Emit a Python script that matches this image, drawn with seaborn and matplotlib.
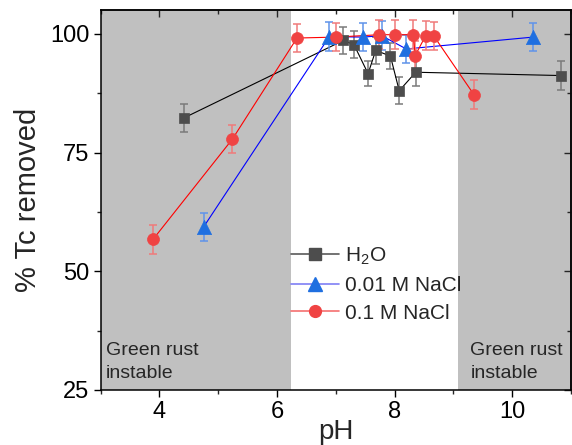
import matplotlib
matplotlib.use("Agg")
import matplotlib.pyplot as plt
from matplotlib.lines import Line2D
from matplotlib.ticker import FixedLocator
import seaborn as sns
import pandas as pd

# ---- data ----
h2o_ph = [4.42, 7.13, 7.31, 7.55, 7.68, 7.93, 8.08, 8.36, 10.84]
h2o_val = [82.3, 98.6, 97.7, 91.6, 96.5, 95.3, 88.0, 91.9, 91.2]
h2o_err = [3.0, 2.8, 2.8, 2.6, 2.8, 2.8, 2.8, 2.8, 3.0]

nacl001_ph = [4.75, 6.89, 7.47, 7.78, 8.20, 10.36]
nacl001_val = [59.3, 99.4, 99.3, 99.6, 96.8, 99.3]
nacl001_err = [3.0, 3.0, 3.0, 3.0, 3.0, 3.0]

nacl01_ph = [3.89, 5.24, 6.34, 7.01, 7.74, 8.00, 8.32, 8.35, 8.53, 8.67, 9.35]
nacl01_val = [56.7, 77.8, 99.1, 99.3, 99.8, 99.8, 99.8, 95.4, 99.6, 99.5, 87.2]
nacl01_err = [3.0, 3.0, 3.0, 3.0, 3.0, 3.0, 3.0, 3.0, 3.0, 3.0, 3.0]

labels = ["H$_{\\mathregular{2}}$O", "0.01 M NaCl", "0.1 M NaCl"]
region_text = "Green rust\ninstable"
x_label = "pH"
y_label = "% Tc removed"

sns.set_theme(style="ticks")
plt.rcParams["font.family"] = ["Liberation Sans", "DejaVu Sans"]
plt.rcParams["mathtext.fontset"] = "custom"
plt.rcParams["mathtext.rm"] = "Liberation Sans"

fig = plt.figure(figsize=(5.72, 4.45), dpi=100)
ax = fig.add_axes([0.176, 0.1236, 0.822, 0.8539])

ax.axvspan(3, 6.23, color="#c0c0c0", lw=0, zorder=0)
ax.axvspan(9.08, 11, color="#c0c0c0", lw=0, zorder=0)

series = [
    (h2o_ph, h2o_val, h2o_err, "black", "#4d4d4d", "#7a7a7a", "s", 60),
    (nacl001_ph, nacl001_val, nacl001_err, "#0000ff", "#1f6fe0", "#5f93ea", "^", 105),
    (nacl01_ph, nacl01_val, nacl01_err, "#ff0000", "#f04343", "#f07a7a", "o", 74),
]
draw_order = [2, 0, 1]
for i in draw_order:
    xs, ys, es, lc, mc, ec, mk, sz = series[i]
    df = pd.DataFrame({"pH": xs, "val": ys})
    ax.errorbar(xs, ys, yerr=es, fmt="none", ecolor=ec, elinewidth=1.1,
                capsize=3, capthick=1.1, zorder=2 + i * 0.1)
    sns.lineplot(data=df, x="pH", y="val", color=lc, lw=0.8, sort=False,
                 estimator=None, ax=ax, zorder=2 + i * 0.1)
    sns.scatterplot(data=df, x="pH", y="val", marker=mk, s=sz, color=mc,
                    edgecolor=mc, linewidth=0.5, ax=ax, zorder=4 + i * 0.1)

ax.set_xlim(3, 11)
ax.set_ylim(25, 105)
ax.xaxis.set_major_locator(FixedLocator([4, 6, 8, 10]))
ax.xaxis.set_minor_locator(FixedLocator([3, 5, 7, 9, 11]))
ax.yaxis.set_major_locator(FixedLocator([25, 50, 75, 100]))
ax.yaxis.set_minor_locator(FixedLocator([37.5, 62.5, 87.5]))
ax.tick_params(which="major", direction="out", length=5, width=1.0,
               labelsize=17, colors="black", pad=3)
ax.tick_params(which="minor", direction="out", length=3, width=1.0)

for s in ax.spines.values():
    s.set_linewidth(1.1)
    s.set_color("black")
    s.set_visible(True)

top = ax.secondary_xaxis("top")
top.xaxis.set_major_locator(FixedLocator([4, 6, 8, 10]))
top.xaxis.set_minor_locator(FixedLocator([3, 5, 7, 9, 11]))
top.tick_params(which="major", direction="in", length=5, width=1.0, labeltop=False)
top.tick_params(which="minor", direction="in", length=3, width=1.0)
right = ax.secondary_yaxis("right")
right.yaxis.set_major_locator(FixedLocator([25, 50, 75, 100]))
right.yaxis.set_minor_locator(FixedLocator([37.5, 62.5, 87.5]))
right.tick_params(which="major", direction="in", length=5, width=1.0, labelright=False)
right.tick_params(which="minor", direction="in", length=3, width=1.0)

ax.set_xlabel(x_label, fontsize=20, labelpad=-3)
ax.set_ylabel(y_label, fontsize=21, labelpad=6)

ax.text(3.09, 35.0, region_text, fontsize=14, va="top", ha="left",
        linespacing=1.4, zorder=5)
ax.text(9.29, 35.0, region_text, fontsize=14, va="top", ha="left",
        linespacing=1.4, zorder=5)

handles = [
    Line2D([], [], color="#5a5a5a", lw=1.2, marker="s", markersize=8,
           markerfacecolor="#4d4d4d", markeredgecolor="#4d4d4d"),
    Line2D([], [], color="#7f7ff5", lw=1.2, marker="^", markersize=10,
           markerfacecolor="#1f6fe0", markeredgecolor="#1f6fe0"),
    Line2D([], [], color="#f57070", lw=1.2, marker="o", markersize=8.5,
           markerfacecolor="#f04343", markeredgecolor="#f04343"),
]
leg = ax.legend(handles, labels, loc="upper left", bbox_to_anchor=(0.405, 0.38),
                frameon=False, fontsize=15, handlelength=2.3, handletextpad=0.3,
                labelspacing=0.42, borderpad=0, borderaxespad=0)

fig.savefig("out.png", dpi=100)
